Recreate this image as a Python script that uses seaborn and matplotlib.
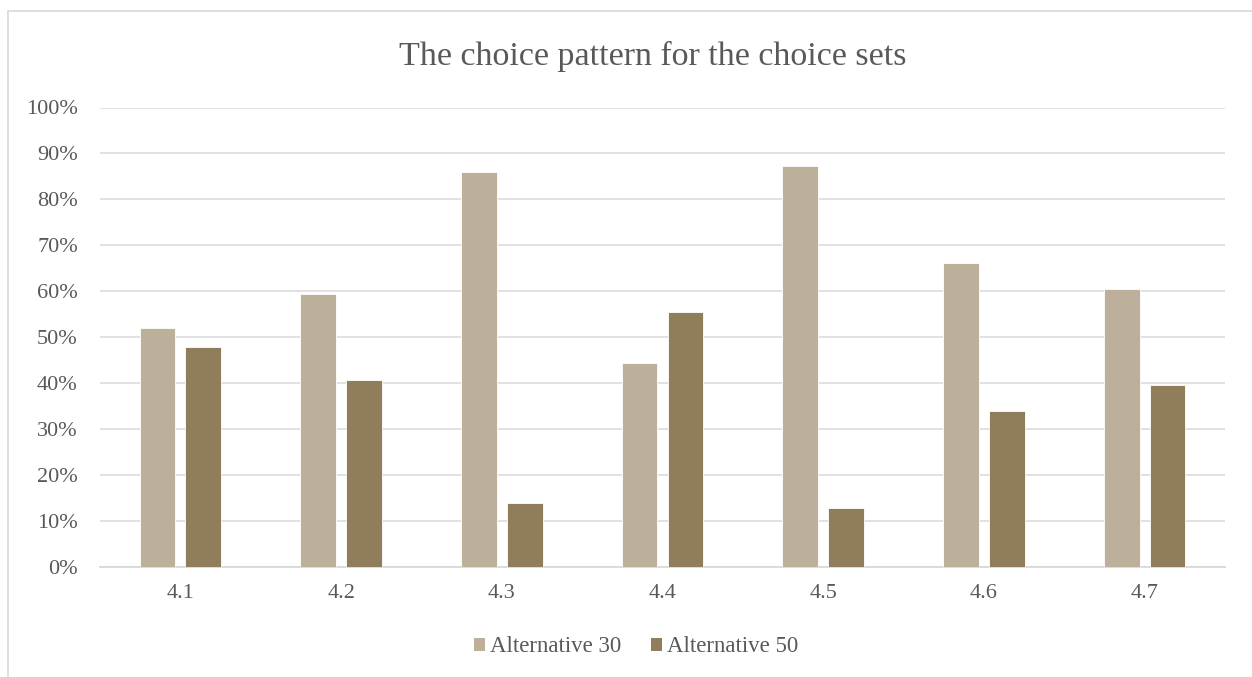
import seaborn as sns
import matplotlib.pyplot as plt
import matplotlib.patches as mpatches
import pandas as pd

# Values (share of respondents)
choice_sets = ['4.1', '4.2', '4.3', '4.4', '4.5', '4.6', '4.7']
alt_30 = [52.1, 59.4, 86.0, 44.5, 87.2, 66.1, 60.5]
alt_50 = [47.9, 40.6, 14.0, 55.5, 12.8, 33.9, 39.5]
series_names = ['Alternative 30', 'Alternative 50']
colors = ['#BDB09B', '#8F7D5C']

df = pd.DataFrame({
    'set': choice_sets * 2,
    'share': alt_30 + alt_50,
    'series': [series_names[0]] * len(choice_sets) + [series_names[1]] * len(choice_sets),
})

sns.set_style('white')
plt.rcParams['font.family'] = ['Liberation Serif', 'DejaVu Serif']

fig = plt.figure(figsize=(12.52, 6.77), dpi=100)
ax = fig.add_axes([100 / 1252, 1 - 567 / 677, 1125 / 1252, (567 - 107.5) / 677])

sns.barplot(data=df, x='set', y='share', hue='series', palette=colors, saturation=1,
            width=0.57, gap=0.22, edgecolor='white', linewidth=0.6,
            ax=ax, legend=True, zorder=3)

ax.set_ylim(0, 100)
ax.set_xlim(-0.5, len(choice_sets) - 0.5)
ax.set_yticks(range(0, 101, 10))
ax.set_yticklabels([f'{v}%' for v in range(0, 101, 10)])
ax.yaxis.grid(True, color='#D9D9D9', linewidth=1.1, zorder=0)
ax.set_axisbelow(True)
ax.set_xlabel('')
ax.set_ylabel('')
for side in ['top', 'right', 'left']:
    ax.spines[side].set_visible(False)
ax.spines['bottom'].set_color('#D9D9D9')
ax.spines['bottom'].set_linewidth(1.3)
ax.tick_params(axis='both', length=0, labelsize=16, colors='#595959')
ax.tick_params(axis='y', pad=16)
ax.tick_params(axis='x', pad=12)

# legend at the bottom
handles = [mpatches.Patch(facecolor=c, edgecolor='none') for c in colors]
ax.get_legend().remove()
fig.legend(handles, series_names, loc='center', bbox_to_anchor=(636 / 1252, 1 - 647 / 677),
           ncol=2, frameon=False, fontsize=16.5, handlelength=0.5, handleheight=0.5,
           handletextpad=0.2, columnspacing=1.3, labelcolor='#595959')

fig.suptitle('The choice pattern for the choice sets', x=653 / 1252, y=1 - 56 / 677,
             va='center', fontsize=24.5, color='#595959')

# chart area border
fig.patches.append(mpatches.Rectangle((7.5 / 1252, -0.1), 1.2, 1.1 - 11 / 677,
                                      transform=fig.transFigure, fill=False,
                                      edgecolor='#D9D9D9', linewidth=1.2))

fig.savefig('out.png', dpi=100)
